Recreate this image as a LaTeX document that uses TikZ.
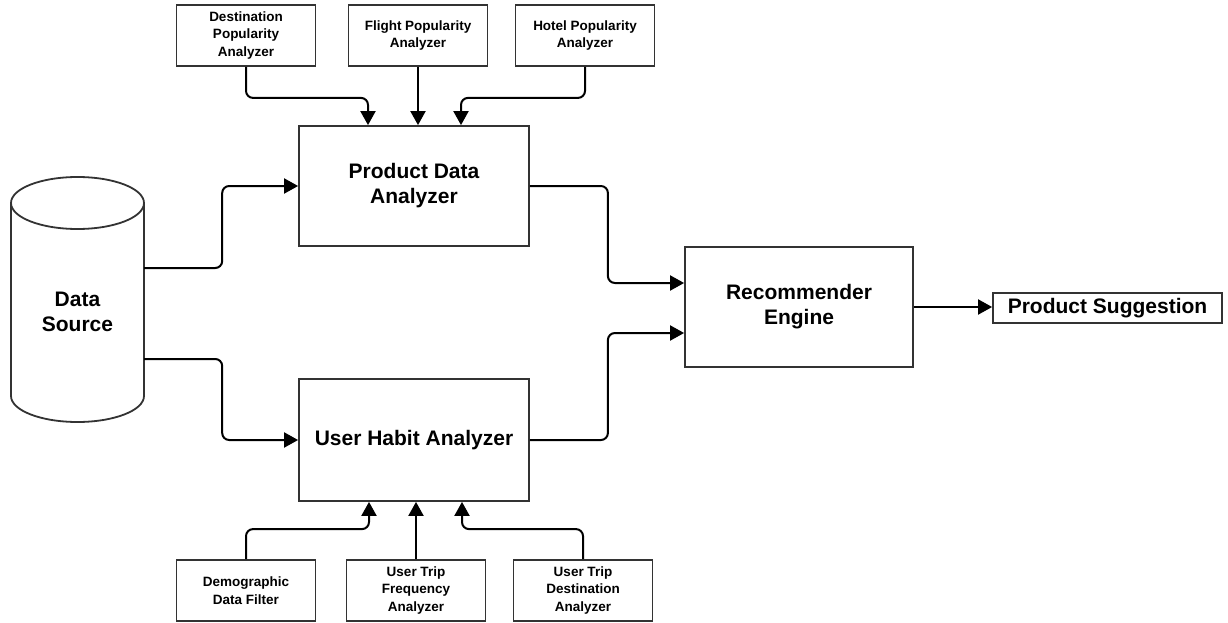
\documentclass[tikz,border=0pt]{standalone}
\usepackage{fontspec}
\setmainfont{Liberation Sans}
\usetikzlibrary{arrows.meta,calc}
\begin{document}
\begin{tikzpicture}[x=1pt,y=-1pt,
  box/.style={draw=black!80,line width=1.8pt,fill=white,inner sep=0pt,align=center,font=\bfseries\fontsize{21}{25}\selectfont},
  small/.style={draw=black!80,line width=1.8pt,fill=white,inner sep=0pt,align=center,minimum width=139pt,minimum height=61pt,font=\bfseries\fontsize{13.5}{17.5}\selectfont},
  conn/.style={draw=black,line width=2pt,rounded corners=7pt,-{Triangle[length=14pt,width=15pt]}}]
\useasboundingbox (0,0) rectangle (1228,623);
% data source cylinder
\draw[draw=black!80,line width=1.8pt,fill=white] (11,203) -- (11,396) arc[start angle=180,end angle=360,x radius=66.5pt,y radius=26pt] -- (144,203);
\draw[draw=black!80,line width=1.8pt] (77.5,203) ellipse[x radius=66.5pt,y radius=26pt];
\node[inner sep=0pt,minimum width=133pt,minimum height=245pt] (ds) at (77.5,300) {};
\node[inner sep=0pt,align=center,font=\bfseries\fontsize{21}{25}\selectfont] (dst) at (77.5,312) {Data\\Source};
\coordinate (dsA) at ($(ds.east)+(0,-32)$);
\coordinate (dsB) at ($(ds.east)+(0,59)$);
% main boxes
\node[box,minimum width=230pt,minimum height=120pt] (pda) at (414,186) {Product Data\\Analyzer};
\node[box,minimum width=230pt,minimum height=122pt] (uha) at (414,440) {User Habit Analyzer};
\node[box,minimum width=228pt,minimum height=120pt] (rec) at (799,307) {Recommender\\Engine};
\node[box,minimum width=229pt,minimum height=30pt] (ps) at (1107.5,308) {Product Suggestion};
% top small boxes
\node[small] (dpa) at (246,35.5) {Destination\\Popularity\\Analyzer};
\node[small] (fpa) at (418,35.5) {Flight Popularity\\Analyzer};
\node[small] (hpa) at (585,35.5) {Hotel Popularity\\Analyzer};
% bottom small boxes
\node[small] (ddf) at (246,590.5) {Demographic\\Data Filter};
\node[small] (utf) at (416,590.5) {User Trip\\Frequency\\Analyzer};
\node[small] (utd) at (583,590.5) {User Trip\\Destination\\Analyzer};
% connectors top
\draw[conn] (dpa.south) -- ++(0,31) -| ($(pda.north)+(-46,0)$);
\draw[conn] (fpa.south) -- (fpa.south |- pda.north);
\draw[conn] (hpa.south) -- ++(0,31) -| ($(pda.north)+(47,0)$);
% connectors bottom
\draw[conn] (ddf.north) -- ++(0,-30) -| ($(uha.south)+(-45,0)$);
\draw[conn] (utf.north) -- (utf.north |- uha.south);
\draw[conn] (utd.north) -- ++(0,-30) -| ($(uha.south)+(48,0)$);
% data source to analyzers
\draw[conn] (dsA) -- ++(78,0) |- (pda.west);
\draw[conn] (dsB) -- ++(78,0) |- (uha.west);
% analyzers to recommender
\draw[conn] (pda.east) -- ++(78,0) |- ($(rec.west)+(0,-24)$);
\draw[conn] (uha.east) -- ++(78,0) |- ($(rec.west)+(0,26)$);
\draw[conn] (rec.east) -- (rec.east -| ps.west);
\end{tikzpicture}
\end{document}
